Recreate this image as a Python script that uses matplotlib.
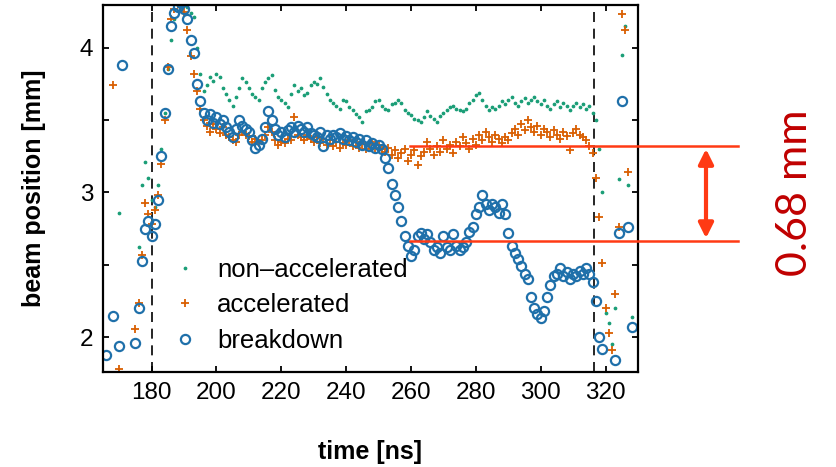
import numpy as np
import matplotlib
matplotlib.use("Agg")
import matplotlib.pyplot as plt
from matplotlib import transforms
from matplotlib.lines import Line2D

plt.rcParams['font.family'] = ['Liberation Sans', 'DejaVu Sans']

nan = np.nan
# sampling grid of the scope trace (ns)
time_ns = np.arange(166, 330)

breakdown = [
    1.88, nan, 2.15, nan, 1.94, 3.88, nan, nan, nan, 1.96,   # 166-175
    2.20, 2.53, 2.75, 2.80, 2.70, 2.78, 2.95, 3.25, 3.55, 3.85,   # 176-185
    4.15, 4.24, 4.28, 4.31, 4.27, 4.20, 4.05, 3.96, 3.75, 3.63,   # 186-195
    3.55, 3.50, 3.54, 3.48, 3.52, 3.47, 3.50, 3.45, 3.42, 3.38,   # 196-205
    3.44, 3.50, 3.46, 3.44, 3.42, 3.36, 3.31, 3.33, 3.37, 3.45,   # 206-215
    3.56, 3.50, 3.44, 3.40, 3.42, 3.38, 3.43, 3.45, 3.42, 3.46,   # 216-225
    3.44, 3.42, 3.45, 3.41, 3.40, 3.38, 3.42, 3.32, 3.40, 3.37,   # 226-235
    3.40, 3.38, 3.41, 3.37, 3.39, 3.36, 3.38, 3.35, 3.37, 3.33,   # 236-245
    3.36, 3.32, 3.34, 3.31, 3.33, 3.30, 3.24, 3.17, 3.06, 2.98,   # 246-255
    2.90, 2.80, 2.70, 2.63, 2.56, 2.60, 2.70, 2.72, 2.68, 2.71,   # 256-265
    2.66, 2.60, 2.62, 2.58, 2.70, 2.62, 2.60, 2.71, 2.63, 2.60,   # 266-275
    2.62, 2.66, 2.73, 2.76, 2.85, 2.90, 2.98, 2.92, 2.88, 2.92,   # 276-285
    2.90, 2.86, 2.92, 2.85, 2.72, 2.63, 2.58, 2.54, 2.49, 2.44,   # 286-295
    2.40, 2.28, 2.20, 2.16, 2.13, 2.18, 2.28, 2.36, 2.42, 2.44,   # 296-305
    2.48, 2.42, 2.45, 2.40, 2.44, 2.42, 2.46, 2.44, 2.48, 2.44,   # 306-315
    2.38, 2.25, 2.00, 1.92, nan, nan, nan, 1.84, 2.72, 3.63,      # 316-325
    nan, 2.76, 2.07, nan,                                          # 326-329
]

accelerated = [
    nan, nan, 3.74, nan, 1.78, nan, nan, nan, nan, 2.06,          # 166-175
    2.24, 2.57, 2.93, 2.85, 2.78, 2.88, 2.98, 3.20, 3.50, 3.87,   # 176-185
    4.20, 4.27, 4.30, 4.29, 4.25, 4.12, 3.94, 3.82, 3.70, 3.58,   # 186-195
    3.50, 3.46, 3.42, 3.47, 3.44, 3.41, 3.45, 3.40, 3.38, 3.36,   # 196-205
    3.35, 3.40, 3.42, 3.40, 3.39, 3.35, 3.37, 3.34, 3.36, 3.40,   # 206-215
    3.45, 3.42, 3.36, 3.33, 3.35, 3.34, 3.37, 3.36, 3.52, 3.40,   # 216-225
    3.38, 3.36, 3.40, 3.37, 3.35, 3.38, 3.34, 3.37, 3.33, 3.36,   # 226-235
    3.32, 3.35, 3.31, 3.34, 3.33, 3.36, 3.32, 3.35, 3.31, 3.34,   # 236-245
    3.30, 3.33, 3.35, 3.31, 3.33, 3.30, 3.28, 3.31, 3.26, 3.29,   # 246-255
    3.24, 3.27, 3.30, 3.22, 3.26, 3.29, 3.19, 3.25, 3.28, 3.35,   # 256-265
    3.30, 3.26, 3.32, 3.28, 3.36, 3.30, 3.33, 3.27, 3.35, 3.32,   # 266-275
    3.38, 3.34, 3.30, 3.37, 3.33, 3.40, 3.36, 3.42, 3.38, 3.35,   # 276-285
    3.40, 3.37, 3.34, 3.38, 3.36, 3.41, 3.44, 3.40, 3.47, 3.43,   # 286-295
    3.50, 3.45, 3.42, 3.46, 3.40, 3.44, 3.42, 3.38, 3.43, 3.40,   # 296-305
    3.37, 3.42, 3.39, 3.29, 3.41, 3.44, 3.40, 3.38, 3.36, 3.32,   # 306-315
    3.27, 3.10, 2.83, 2.51, 2.20, 2.03, 1.91, 2.30, 2.76, 4.23,   # 316-325
    4.12, 3.14, nan, nan,                                          # 326-329
]

non_accelerated = [
    nan, nan, nan, nan, 2.86, nan, nan, nan, nan, nan,            # 166-175
    2.62, 3.05, 3.21, 3.10, 2.95, 2.90, 3.05, 3.30, 3.55, 3.85,   # 176-185
    4.05, 4.20, 4.30, 4.32, 4.30, 4.28, 4.24, 4.21, 4.00, 3.82,   # 186-195
    3.70, 3.74, 3.80, 3.77, 3.82, 3.80, 3.72, 3.68, 3.64, 3.60,   # 196-205
    3.66, 3.72, 3.79, 3.76, 3.72, 3.68, 3.66, 3.64, 3.72, 3.76,   # 206-215
    3.79, 3.81, 3.71, 3.66, 3.64, 3.62, 3.59, 3.68, 3.74, 3.70,   # 216-225
    3.72, 3.67, 3.69, 3.74, 3.76, 3.75, 3.79, 3.73, 3.68, 3.64,   # 226-235
    3.62, 3.60, 3.58, 3.64, 3.63, 3.59, 3.57, 3.54, 3.52, 3.49,   # 236-245
    3.56, 3.57, 3.59, 3.63, 3.64, 3.60, 3.58, 3.57, 3.61, 3.62,   # 246-255
    3.64, 3.62, 3.57, 3.55, 3.535, 3.51, 3.50, 3.49, 3.52, 3.56,  # 256-265
    3.53, 3.51, 3.49, 3.53, 3.55, 3.57, 3.59, 3.60, 3.58, 3.57,   # 266-275
    3.56, 3.58, 3.62, 3.64, 3.67, 3.685, 3.64, 3.60, 3.57, 3.59,  # 276-285
    3.58, 3.60, 3.63, 3.61, 3.64, 3.66, 3.62, 3.60, 3.63, 3.65,   # 286-295
    3.62, 3.64, 3.66, 3.63, 3.61, 3.64, 3.60, 3.58, 3.61, 3.63,   # 296-305
    3.59, 3.62, 3.60, 3.57, 3.60, 3.62, 3.59, 3.61, 3.58, 3.60,   # 306-315
    3.55, 3.50, 3.30, 3.00, 2.17, 2.10, 1.95, 2.20, 3.09, 3.95,   # 316-325
    4.15, 3.05, 2.14, nan,                                         # 326-329
]

pulse_window_ns = [180, 316.5]
level_accelerated = 3.32
level_breakdown = 2.665
shift_label = "0.68 mm"

C_GREEN = '#1b9e77'
C_ORANGE = '#d95f02'
C_BLUE = '#1f70aa'
C_RED = '#ff3a14'

fig = plt.figure(figsize=(8.36, 4.67), dpi=100)
ax = fig.add_axes([103/836, 1-372/467, 535/836, 367/467])

ax.plot(time_ns, non_accelerated, linestyle='none', marker='.', markersize=3.4,
        color=C_GREEN, label='non\u2013accelerated')
ax.plot(time_ns, accelerated, linestyle='none', marker='+', markersize=6.2,
        markeredgewidth=1.3, color=C_ORANGE, label='accelerated')
ax.plot(time_ns, breakdown, linestyle='none', marker='o', markersize=6.6,
        markerfacecolor='none', markeredgewidth=1.6, color=C_BLUE, label='breakdown')

for xv in pulse_window_ns:
    ax.axvline(xv, color='black', linestyle=(0, (6, 4)), linewidth=1.2, zorder=0)

ax.set_xlim(165, 330)
ax.set_ylim(1.76, 4.295)
ax.set_xticks([180, 200, 220, 240, 260, 280, 300, 320])
ax.set_yticks([2, 2.5, 3, 3.5, 4])
ax.set_yticklabels(['2', '', '3', '', '4'])
ax.tick_params(direction='in', top=True, right=True, length=4, width=1.3,
               labelsize=17.5, pad=7)
for s in ax.spines.values():
    s.set_linewidth(1.6)

ax.set_xlabel('time [ns]', fontsize=18, fontweight='bold')
ax.set_ylabel('beam position [mm]', fontsize=18, fontweight='bold')
ax.xaxis.set_label_coords(0.5, -0.186)
ax.yaxis.set_label_coords(-0.107, 0.5)

leg = ax.legend(loc='lower left', bbox_to_anchor=(0.129, 0.052), frameon=False,
                fontsize=18.5, handlelength=1.0, handletextpad=0.75,
                labelspacing=0.45, borderpad=0, borderaxespad=0, numpoints=1)

# annotation: level lines extending past the axes, double arrow and label
trans = transforms.blended_transform_factory(fig.transFigure, ax.transData)
for lv in [level_accelerated, level_breakdown]:
    fig.add_artist(Line2D([410/836, 738/836], [lv, lv], transform=trans,
                          color=C_RED, linewidth=1.8, clip_on=False))
ax.annotate('', xy=(706/836, level_accelerated), xycoords=trans,
            xytext=(706/836, level_breakdown), textcoords=trans,
            arrowprops=dict(arrowstyle='<|-|>', color=C_RED, lw=3,
                            mutation_scale=22, shrinkA=2, shrinkB=2),
            annotation_clip=False)
fig.text(795/836, 1-193/467, shift_label, rotation=90, ha='center', va='center',
         color='#c00000', fontsize=31, family=['Lato', 'DejaVu Sans'])

fig.savefig('out.png', dpi=100)
